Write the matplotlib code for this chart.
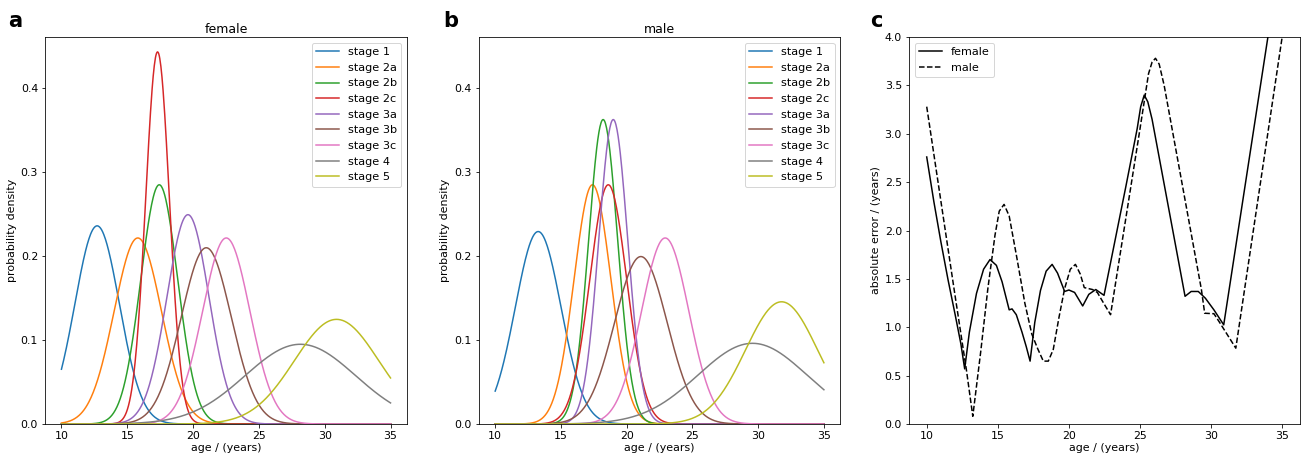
import numpy as np
import matplotlib
matplotlib.use("Agg")
import matplotlib.pyplot as plt

# stage distributions (mean age, sd in years)
stages = ['stage 1', 'stage 2a', 'stage 2b', 'stage 2c', 'stage 3a',
          'stage 3b', 'stage 3c', 'stage 4', 'stage 5']
female_mu = [12.71, 15.80, 17.43, 17.30, 19.61, 21.00, 22.52, 28.15, 30.90]
female_sd = [1.69, 1.80, 1.40, 0.90, 1.60, 1.90, 1.80, 4.20, 3.20]
male_mu = [13.27, 17.40, 18.21, 18.60, 18.98, 21.08, 22.93, 29.57, 31.78]
male_sd = [1.74, 1.40, 1.10, 1.40, 1.10, 2.00, 1.80, 4.15, 2.74]

# absolute error curves (panel c)
err_f_age = [10.0, 10.5, 11.0, 11.5, 12.0, 12.4, 12.67, 13.0, 13.5, 14.0, 14.45,
             14.9, 15.3, 15.8, 16.0, 16.3, 16.7, 17.0, 17.27, 17.6, 18.0, 18.4,
             18.82, 19.2, 19.7, 20.0, 20.4, 20.97, 21.4, 21.89, 22.47, 24.0,
             24.8, 25.05, 25.3, 25.55, 25.85, 28.17, 28.6, 29.1, 29.6, 30.2,
             30.89, 35.0]
err_f = [2.76, 2.30, 1.88, 1.49, 1.13, 0.83, 0.57, 0.95, 1.35, 1.60, 1.70,
         1.64, 1.47, 1.18, 1.19, 1.13, 0.95, 0.80, 0.65, 1.05, 1.38, 1.58,
         1.65, 1.56, 1.37, 1.385, 1.36, 1.22, 1.34, 1.39, 1.33, 2.45,
         3.05, 3.28, 3.40, 3.33, 3.15, 1.32, 1.37, 1.37, 1.30, 1.18,
         1.025, 4.96]
err_m_age = [10.0, 11.0, 12.0, 12.8, 13.24, 13.8, 14.3, 14.8, 15.1, 15.44,
             15.8, 16.3, 16.9, 17.39, 17.8, 18.2, 18.55, 18.9, 19.3, 19.7,
             20.1, 20.46, 20.8, 21.08, 21.66, 22.0, 22.4, 22.93, 25.0, 25.6,
             25.85, 26.09, 26.35, 26.7, 29.32, 29.55, 30.2, 30.6, 31.74, 35.0]
err_m = [3.28, 2.30, 1.32, 0.55, 0.08, 0.75, 1.40, 1.95, 2.20, 2.27,
         2.15, 1.75, 1.25, 0.93, 0.78, 0.65, 0.65, 0.77, 1.10, 1.40,
         1.60, 1.65, 1.55, 1.41, 1.39, 1.36, 1.26, 1.13, 3.05, 3.62,
         3.74, 3.78, 3.72, 3.50, 1.39, 1.145, 1.14, 1.05, 0.784, 4.0]

plt.rcParams['font.size'] = 11

ages = np.linspace(10, 35, 600)


def normal_pdf(x, mu, sd):
    return np.exp(-0.5 * ((x - mu) / sd) ** 2) / (sd * np.sqrt(2 * np.pi))


fig = plt.figure(figsize=(1312 / 72, 458 / 72), dpi=72)
ax_a = fig.add_axes([0.0343, 0.0742, 0.2759, 0.845])
ax_b = fig.add_axes([0.3649, 0.0742, 0.2756, 0.845])
ax_c = fig.add_axes([0.6928, 0.0742, 0.2980, 0.845])

for ax, mus, sds, title in [(ax_a, female_mu, female_sd, 'female'),
                            (ax_b, male_mu, male_sd, 'male')]:
    for name, mu, sd in zip(stages, mus, sds):
        ax.plot(ages, normal_pdf(ages, mu, sd), lw=1.5, label=name)
    ax.set_ylim(0, 0.461)
    ax.set_yticks([0.0, 0.1, 0.2, 0.3, 0.4])
    ax.set_xticks([10, 15, 20, 25, 30, 35])
    ax.set_title(title, fontsize=12.5, pad=4)
    ax.set_xlabel('age / (years)', labelpad=2)
    ax.set_ylabel('probability density')
    ax.legend(loc='upper right', fontsize=11.3)

ax_c.plot(err_f_age, err_f, color='black', lw=1.5, label='female')
ax_c.plot(err_m_age, err_m, color='black', lw=1.5, ls='--', label='male')
ax_c.set_ylim(0, 4.0)
ax_c.set_yticks(np.arange(0, 4.01, 0.5))
ax_c.set_xticks([10, 15, 20, 25, 30, 35])
ax_c.set_xlabel('age / (years)', labelpad=2)
ax_c.set_ylabel('absolute error / (years)')
ax_c.legend(loc='upper left', fontsize=11.3)

for letter, xpos in [('a', 0.006), ('b', 0.338), ('c', 0.663)]:
    fig.text(xpos, 0.975, letter, fontsize=21, fontweight='bold', va='top')

fig.savefig('out.png', dpi=72)
